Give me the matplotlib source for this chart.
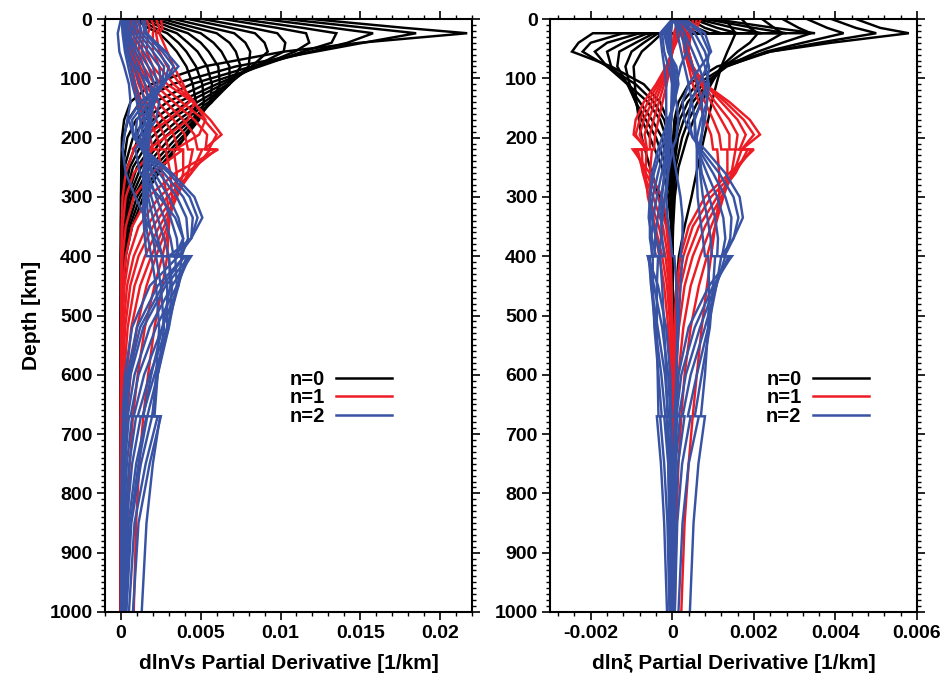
import matplotlib
matplotlib.use("Agg")
import matplotlib.pyplot as plt
from matplotlib.ticker import MultipleLocator, FuncFormatter
from matplotlib.lines import Line2D

plt.rcParams['font.family'] = ['Liberation Sans', 'DejaVu Sans']
plt.rcParams['font.weight'] = 'bold'

# kernel values are given in units of 1e-3 per km
UNIT = 1e-3

# ---------------- depth grids (km) ----------------
DEPTH_N0 = [0, 15, 24, 40, 55, 80, 110, 140, 170, 200, 250, 300, 350, 400, 500, 1000]
DEPTH_N0_XI = [0, 15, 24, 24, 40, 55, 80, 110, 140, 170, 200, 250, 300, 350, 400, 500, 1000]
DEPTH_N1 = [0, 15, 24, 55, 80, 110, 140, 170, 195, 220, 220, 260, 300, 350, 400, 450,
            520, 600, 670, 750, 850, 1000]
DEPTH_N2 = [0, 24, 55, 80, 110, 140, 170, 200, 220, 260, 300, 335, 370, 400, 400, 450,
            520, 600, 670, 670, 750, 850, 1000]

# ---------------- dlnVs kernels ----------------
VS_N0 = [
    [11.9, 17.8, 21.7, 15.0, 10.2, 5.2, 1.9, 0.6, 0.2, 0.06, 0.02, 0, 0, 0, 0, 0],
    [10.3, 15.4, 18.5, 15.2, 12.2, 7.2, 3.2, 1.2, 0.45, 0.15, 0.04, 0.01, 0, 0, 0, 0],
    [8.9, 13.3, 15.8, 14.2, 11.9, 8.2, 4.4, 2.1, 0.95, 0.4, 0.12, 0.03, 0, 0, 0, 0],
    [7.5, 11.4, 13.5, 13.2, 11.4, 8.7, 5.3, 2.9, 1.5, 0.75, 0.22, 0.06, 0.02, 0, 0, 0],
    [6.4, 9.8, 11.6, 11.8, 10.9, 8.6, 6.0, 3.6, 2.0, 1.1, 0.4, 0.12, 0.03, 0, 0, 0],
    [5.1, 8.2, 9.8, 10.3, 10.2, 8.4, 6.4, 4.2, 2.6, 1.5, 0.55, 0.18, 0.05, 0.01, 0, 0],
    [4.2, 6.9, 8.4, 9.0, 9.2, 8.2, 6.7, 4.8, 3.1, 1.9, 0.75, 0.26, 0.08, 0.02, 0, 0],
    [3.3, 5.7, 7.1, 7.8, 8.1, 8.0, 6.8, 5.2, 3.6, 2.3, 1.0, 0.38, 0.12, 0.04, 0, 0],
    [2.6, 4.7, 6.0, 6.8, 7.2, 7.5, 6.8, 5.5, 4.0, 2.7, 1.25, 0.5, 0.18, 0.06, 0, 0],
    [2.1, 3.9, 5.0, 5.8, 6.3, 6.8, 6.8, 5.7, 4.4, 3.1, 1.5, 0.65, 0.25, 0.08, 0.01, 0],
    [1.7, 3.2, 4.2, 5.0, 5.5, 6.1, 6.2, 5.7, 4.6, 3.5, 1.8, 0.8, 0.32, 0.12, 0.01, 0],
    [1.4, 2.6, 3.5, 4.2, 4.8, 5.4, 5.7, 5.6, 4.8, 3.8, 2.1, 1.0, 0.42, 0.16, 0.02, 0],
    [1.1, 2.1, 2.9, 3.6, 4.1, 4.7, 5.1, 5.2, 4.9, 4.0, 2.4, 1.2, 0.55, 0.22, 0.03, 0],
    [0.9, 1.7, 2.4, 3.0, 3.5, 4.1, 4.5, 4.7, 4.6, 4.0, 2.6, 1.4, 0.7, 0.3, 0.05, 0],
]
VS_N1 = [
    [2.5, 2.6, 2.4, 2.9, 3.3, 3.9, 4.3, 3.0, 1.6, 0.7, 0.8, 0.3, 0.1, 0.04, 0.02, 0.01, 0, 0, 0, 0, 0, 0],
    [2.2, 2.4, 2.2, 2.4, 2.9, 3.7, 4.6, 4.2, 3.0, 1.7, 2.0, 0.8, 0.3, 0.1, 0.04, 0.02, 0.01, 0, 0, 0, 0, 0],
    [1.9, 2.1, 2.0, 2.0, 2.4, 3.3, 4.6, 5.3, 4.9, 3.4, 3.9, 1.9, 0.8, 0.3, 0.1, 0.05, 0.02, 0.01, 0, 0, 0, 0],
    [1.6, 1.8, 1.7, 1.6, 2.0, 2.9, 4.5, 5.6, 6.3, 5.2, 6.1, 3.4, 1.7, 0.7, 0.3, 0.12, 0.05, 0.02, 0.01, 0, 0, 0],
    [1.3, 1.5, 1.4, 1.3, 1.7, 2.5, 3.8, 5.2, 6.0, 5.5, 6.0, 4.1, 2.4, 1.1, 0.5, 0.22, 0.09, 0.04, 0.02, 0.01, 0, 0],
    [1.0, 1.2, 1.2, 1.1, 1.4, 2.1, 3.3, 4.6, 5.4, 5.3, 5.6, 4.4, 2.9, 1.6, 0.8, 0.38, 0.16, 0.07, 0.04, 0.02, 0.01, 0.01],
    [0.8, 0.9, 1.0, 0.9, 1.2, 1.8, 2.8, 3.9, 4.6, 4.8, 5.1, 4.4, 3.3, 2.0, 1.1, 0.58, 0.26, 0.12, 0.07, 0.04, 0.02, 0.01],
    [0.6, 0.7, 0.8, 0.8, 1.0, 1.5, 2.3, 3.3, 4.0, 4.2, 4.5, 4.2, 3.5, 2.4, 1.5, 0.85, 0.42, 0.2, 0.12, 0.07, 0.04, 0.02],
    [0.4, 0.5, 0.6, 0.7, 0.9, 1.3, 1.9, 2.7, 3.3, 3.6, 3.9, 3.9, 3.5, 2.7, 1.9, 1.2, 0.65, 0.35, 0.2, 0.12, 0.07, 0.04],
    [0.3, 0.4, 0.5, 0.6, 0.8, 1.1, 1.6, 2.2, 2.7, 3.0, 3.3, 3.5, 3.4, 2.9, 2.2, 1.6, 1.0, 0.6, 0.38, 0.25, 0.15, 0.1],
    [0.2, 0.3, 0.4, 0.5, 0.7, 0.9, 1.3, 1.8, 2.2, 2.5, 2.8, 3.1, 3.2, 3.0, 2.6, 2.1, 1.5, 1.05, 0.75, 0.55, 0.4, 0.3],
    [0.1, 0.2, 0.3, 0.4, 0.6, 0.8, 1.1, 1.4, 1.8, 2.0, 2.3, 2.6, 2.9, 3.0, 2.9, 2.6, 2.1, 1.7, 1.4, 1.15, 0.95, 0.8],
]
VS_N2 = [
    [1.5, 1.6, 2.8, 3.6, 2.6, 1.2, 0.5, 0.8, 1.5, 3.2, 4.6, 5.1, 4.4, 3.0, 3.6, 1.8, 0.7, 0.25, 0.1, 0.12, 0.05, 0.02, 0.01],
    [1.3, 1.5, 2.6, 3.3, 2.7, 1.5, 0.7, 0.8, 1.4, 3.0, 4.3, 4.8, 4.4, 3.3, 4.0, 2.3, 1.0, 0.4, 0.18, 0.22, 0.1, 0.04, 0.02],
    [1.1, 1.3, 2.3, 3.0, 2.7, 1.8, 1.0, 0.9, 1.3, 2.7, 3.9, 4.5, 4.4, 3.6, 4.3, 2.8, 1.4, 0.6, 0.28, 0.34, 0.16, 0.07, 0.03],
    [0.9, 1.1, 2.0, 2.7, 2.6, 2.0, 1.3, 1.0, 1.3, 2.4, 3.5, 4.1, 4.2, 3.8, 4.4, 3.2, 1.8, 0.85, 0.42, 0.5, 0.25, 0.11, 0.05],
    [0.7, 0.9, 1.7, 2.4, 2.5, 2.1, 1.5, 1.2, 1.3, 2.1, 3.0, 3.6, 3.9, 3.8, 4.3, 3.5, 2.2, 1.1, 0.6, 0.7, 0.37, 0.17, 0.08],
    [0.5, 0.7, 1.4, 2.0, 2.3, 2.1, 1.7, 1.4, 1.4, 1.9, 2.6, 3.1, 3.5, 3.6, 4.1, 3.6, 2.6, 1.45, 0.8, 0.95, 0.52, 0.25, 0.12],
    [0.4, 0.5, 1.1, 1.7, 2.1, 2.1, 1.8, 1.6, 1.5, 1.7, 2.2, 2.7, 3.1, 3.3, 3.8, 3.6, 2.9, 1.8, 1.05, 1.25, 0.7, 0.35, 0.17],
    [0.3, 0.4, 0.9, 1.4, 1.8, 2.0, 1.9, 1.7, 1.6, 1.6, 1.9, 2.3, 2.7, 3.0, 3.4, 3.5, 3.0, 2.1, 1.35, 1.6, 0.95, 0.48, 0.24],
    [0.2, 0.3, 0.7, 1.1, 1.5, 1.8, 1.9, 1.8, 1.7, 1.6, 1.7, 2.0, 2.3, 2.6, 3.0, 3.2, 3.0, 2.3, 1.65, 1.95, 1.25, 0.65, 0.34],
    [0.15, 0.2, 0.5, 0.8, 1.2, 1.5, 1.7, 1.8, 1.7, 1.6, 1.6, 1.7, 2.0, 2.2, 2.6, 2.9, 2.9, 2.3, 1.95, 2.3, 1.55, 0.85, 0.5],
    [0.1, 0.15, 0.35, 0.6, 0.9, 1.2, 1.5, 1.6, 1.6, 1.5, 1.5, 1.5, 1.7, 1.9, 2.2, 2.5, 2.7, 2.3, 2.1, 2.5, 1.8, 1.1, 0.75],
    [0.05, 0.1, 0.25, 0.45, 0.7, 1.0, 1.2, 1.4, 1.5, 1.4, 1.4, 1.4, 1.5, 1.6, 1.9, 2.2, 2.4, 2.2, 2.0, 2.45, 2.0, 1.6, 1.3],
    [1.0, 0.6, 0.3, 0.9, 1.8, 2.4, 2.2, 1.4, 0.9, 1.2, 2.4, 3.4, 3.9, 3.4, 4.0, 2.6, 1.2, 0.5, 0.2, 0.25, 0.1, 0.05, 0.02],
    [0.0, -0.2, -0.1, 0.2, 0.5, 0.6, 0.4, 0.2, 0.1, 0.3, 0.9, 1.5, 2.1, 2.6, 3.0, 3.1, 2.6, 1.9, 1.4, 1.65, 1.1, 0.6, 0.3],
]

# ---------------- dlnxi kernels ----------------
XI_N0 = [
    [4.5, 5.1, 5.8, 5.8, 3.9, 2.4, 1.1, 0.4, 0.15, 0.05, 0.02, 0, 0, 0, 0, 0, 0],
    [3.9, 4.5, 5.0, 5.0, 3.6, 2.4, 1.3, 0.6, 0.25, 0.1, 0.04, 0.01, 0, 0, 0, 0, 0],
    [3.3, 3.8, 4.2, 4.2, 3.2, 2.3, 1.34, 0.75, 0.38, 0.18, 0.08, 0.02, 0, 0, 0, 0, 0],
    [2.7, 3.1, 3.4, 3.4, 2.7, 2.1, 1.3, 0.85, 0.5, 0.28, 0.14, 0.04, 0.01, 0, 0, 0, 0],
    [2.2, 2.5, 2.7, 2.7, 2.3, 1.8, 1.25, 0.9, 0.62, 0.4, 0.24, 0.08, 0.03, 0.01, 0, 0, 0],
    [1.7, 1.9, 2.1, 2.1, 1.9, 1.6, 1.2, 0.95, 0.72, 0.52, 0.36, 0.15, 0.06, 0.02, 0, 0, 0],
    [1.3, 1.45, 1.55, 1.55, 1.45, 1.35, 1.2, 1.08, 0.97, 0.88, 0.78, 0.62, 0.47, 0.3, 0.16, 0.04, 0],
    [1.0, 2.5, 3.5, -1.95, -2.3, -2.46, -1.5, -0.7, -0.3, -0.12, -0.05, 0, 0, 0, 0, 0, 0],
    [0.8, 2.0, 2.8, -1.2, -2.0, -2.2, -1.6, -0.9, -0.45, -0.2, -0.08, -0.02, 0, 0, 0, 0, 0],
    [0.6, 1.5, 2.2, -0.8, -1.6, -1.9, -1.6, -1.1, -0.6, -0.3, -0.15, -0.04, 0, 0, 0, 0, 0],
    [0.5, 1.1, 1.6, -0.6, -1.2, -1.6, -1.5, -1.1, -0.8, -0.5, -0.25, -0.08, -0.02, 0, 0, 0, 0],
    [0.4, 0.8, 1.2, -0.45, -0.9, -1.3, -1.35, -1.1, -0.9, -0.65, -0.4, -0.15, -0.05, -0.01, 0, 0, 0],
    [0.3, 0.6, 0.9, -0.35, -0.7, -1.0, -1.15, -1.05, -0.9, -0.75, -0.55, -0.25, -0.1, -0.03, 0, 0, 0],
    [0.2, 0.4, 0.6, -0.25, -0.5, -0.75, -0.95, -0.92, -0.88, -0.82, -0.75, -0.55, -0.32, -0.12, -0.03, 0, 0],
]
XI_N1 = [
    [0.7, 0.6, 0.4, 0.3, 0.4, 0.8, 1.4, 1.9, 2.15, 1.7, 2.0, 1.4, 0.8, 0.4, 0.2, 0.1, 0.05, 0.02, 0.01, 0, 0, 0],
    [0.6, 0.55, 0.45, 0.35, 0.45, 0.8, 1.3, 1.75, 2.0, 1.7, 1.95, 1.5, 0.95, 0.5, 0.27, 0.14, 0.07, 0.03, 0.02, 0.01, 0, 0],
    [0.5, 0.5, 0.45, 0.4, 0.5, 0.8, 1.2, 1.6, 1.8, 1.65, 1.85, 1.55, 1.1, 0.65, 0.37, 0.2, 0.1, 0.05, 0.03, 0.02, 0.01, 0.01],
    [0.4, 0.4, 0.4, 0.4, 0.5, 0.75, 1.05, 1.4, 1.6, 1.55, 1.7, 1.5, 1.2, 0.8, 0.5, 0.3, 0.16, 0.08, 0.05, 0.03, 0.02, 0.01],
    [0.3, 0.3, 0.35, 0.4, 0.5, 0.7, 0.95, 1.2, 1.4, 1.4, 1.55, 1.45, 1.25, 0.95, 0.68, 0.45, 0.27, 0.15, 0.1, 0.06, 0.04, 0.02],
    [0.2, 0.25, 0.3, 0.35, 0.45, 0.6, 0.8, 1.0, 1.15, 1.2, 1.35, 1.35, 1.25, 1.05, 0.85, 0.65, 0.45, 0.3, 0.22, 0.15, 0.1, 0.06],
    [0.15, 0.2, 0.25, 0.3, 0.4, 0.5, 0.65, 0.8, 0.95, 1.0, 1.1, 1.15, 1.15, 1.05, 0.95, 0.85, 0.72, 0.6, 0.5, 0.4, 0.3, 0.22],
    [0.4, 0.3, 0.2, 0.0, -0.15, -0.4, -0.7, -0.9, -0.95, -0.6, -0.97, -0.55, -0.25, -0.1, -0.04, -0.02, 0, 0, 0, 0, 0, 0],
    [0.35, 0.25, 0.15, 0.0, -0.15, -0.35, -0.6, -0.8, -0.9, -0.65, -0.92, -0.65, -0.35, -0.15, -0.07, -0.03, -0.01, 0, 0, 0, 0, 0],
    [0.3, 0.2, 0.1, 0.0, -0.1, -0.3, -0.5, -0.7, -0.8, -0.65, -0.85, -0.72, -0.47, -0.23, -0.11, -0.05, -0.02, -0.01, 0, 0, 0, 0],
    [0.25, 0.15, 0.1, 0.0, -0.1, -0.25, -0.42, -0.58, -0.68, -0.62, -0.75, -0.72, -0.57, -0.33, -0.17, -0.08, -0.03, -0.01, 0, 0, 0, 0],
    [0.2, 0.1, 0.05, 0.0, -0.08, -0.2, -0.33, -0.46, -0.55, -0.55, -0.63, -0.66, -0.6, -0.42, -0.25, -0.13, -0.05, -0.02, -0.01, 0, 0, 0],
    [0.15, 0.08, 0.04, 0.0, -0.05, -0.14, -0.24, -0.34, -0.42, -0.45, -0.5, -0.55, -0.55, -0.45, -0.32, -0.2, -0.1, -0.05, -0.02, -0.01, 0, 0],
]
XI_N2 = [
    [0.3, 0.8, 0.95, 0.7, 0.4, 0.25, 0.3, 0.5, 0.8, 1.3, 1.65, 1.73, 1.5, 1.2, 1.46, 0.9, 0.4, 0.15, 0.06, 0.07, 0.03, 0.01, 0.0],
    [0.25, 0.7, 0.9, 0.85, 0.65, 0.45, 0.4, 0.5, 0.7, 1.15, 1.5, 1.62, 1.5, 1.28, 1.45, 1.0, 0.55, 0.22, 0.1, 0.12, 0.05, 0.02, 0.01],
    [0.2, 0.55, 0.8, 0.9, 0.85, 0.7, 0.55, 0.55, 0.65, 1.0, 1.3, 1.45, 1.42, 1.28, 1.38, 1.05, 0.68, 0.33, 0.16, 0.19, 0.08, 0.03, 0.01],
    [0.15, 0.45, 0.65, 0.8, 0.9, 0.85, 0.7, 0.6, 0.62, 0.85, 1.1, 1.25, 1.3, 1.22, 1.3, 1.08, 0.8, 0.45, 0.25, 0.3, 0.14, 0.06, 0.03],
    [0.1, 0.3, 0.5, 0.65, 0.8, 0.85, 0.8, 0.7, 0.65, 0.72, 0.9, 1.05, 1.12, 1.1, 1.2, 1.08, 0.88, 0.6, 0.38, 0.45, 0.24, 0.12, 0.06],
    [0.08, 0.2, 0.35, 0.5, 0.62, 0.72, 0.75, 0.72, 0.68, 0.68, 0.75, 0.86, 0.94, 0.97, 1.05, 1.0, 0.92, 0.72, 0.55, 0.65, 0.4, 0.25, 0.15],
    [0.05, 0.12, 0.22, 0.3, 0.4, 0.48, 0.55, 0.58, 0.6, 0.6, 0.62, 0.68, 0.75, 0.8, 0.88, 0.9, 0.88, 0.8, 0.7, 0.8, 0.64, 0.52, 0.43],
    [0.0, -0.2, -0.1, 0.1, 0.15, 0.05, -0.1, -0.25, -0.35, -0.5, -0.55, -0.5, -0.4, -0.3, -0.6, -0.35, -0.15, -0.05, -0.02, -0.03, -0.01, 0, 0],
    [0.0, -0.15, -0.1, 0.05, 0.1, 0.05, -0.05, -0.18, -0.28, -0.45, -0.55, -0.58, -0.5, -0.4, -0.6, -0.45, -0.25, -0.1, -0.05, -0.06, -0.02, -0.01, 0],
    [0.0, -0.1, -0.08, 0.02, 0.05, 0.02, -0.03, -0.12, -0.2, -0.35, -0.48, -0.55, -0.55, -0.48, -0.58, -0.52, -0.36, -0.18, -0.1, -0.12, -0.05, -0.02, -0.01],
    [0.0, -0.08, -0.06, 0.0, 0.02, 0.0, -0.03, -0.08, -0.14, -0.26, -0.38, -0.47, -0.52, -0.5, -0.55, -0.52, -0.42, -0.27, -0.17, -0.2, -0.1, -0.05, -0.02],
    [0.0, -0.05, -0.05, -0.02, 0.0, -0.01, -0.03, -0.06, -0.1, -0.18, -0.28, -0.36, -0.42, -0.44, -0.48, -0.48, -0.44, -0.34, -0.26, -0.3, -0.2, -0.12, -0.07],
    [0.0, -0.03, -0.03, -0.02, -0.01, -0.02, -0.03, -0.05, -0.07, -0.12, -0.18, -0.24, -0.28, -0.32, -0.35, -0.38, -0.38, -0.36, -0.34, -0.38, -0.28, -0.2, -0.13],
    [0.1, -0.25, -0.2, -0.1, 0.0, 0.1, 0.15, 0.1, 0.0, -0.1, -0.15, -0.12, -0.05, 0.0, 0.05, 0.1, 0.12, 0.1, 0.08, 0.1, 0.08, 0.06, 0.04],
    [0.05, 0.3, 0.35, 0.2, 0.1, 0.0, -0.05, -0.05, 0.0, 0.1, 0.2, 0.25, 0.25, 0.2, 0.25, 0.2, 0.15, 0.1, 0.06, 0.07, 0.05, 0.03, 0.02],
    [0.0, -0.3, -0.25, -0.2, -0.15, -0.15, -0.15, -0.15, -0.15, -0.2, -0.25, -0.28, -0.25, -0.2, -0.3, -0.25, -0.2, -0.15, -0.12, -0.14, -0.1, -0.08, -0.06],
]

LEGEND_LABELS = ["n=0", "n=1", "n=2"]
COLORS = ["#000000", "#ED1C24", "#3953A4"]

W, H = 952, 680
fig = plt.figure(figsize=(W / 100, H / 100), dpi=100)


def box(x0, x1, y0, y1):
    return [x0 / W, 1 - y1 / H, (x1 - x0) / W, (y1 - y0) / H]


axL = fig.add_axes(box(105, 472, 19, 612))
axR = fig.add_axes(box(550, 917, 19, 612))


def draw(ax, depth, curves, color):
    for c in curves:
        ax.plot([v * UNIT for v in c], depth, color=color, lw=1.75,
                solid_joinstyle='miter')


draw(axL, DEPTH_N0, VS_N0, COLORS[0])
draw(axL, DEPTH_N1, VS_N1, COLORS[1])
draw(axL, DEPTH_N2, VS_N2, COLORS[2])
draw(axR, DEPTH_N0_XI, XI_N0, COLORS[0])
draw(axR, DEPTH_N1, XI_N1, COLORS[1])
draw(axR, DEPTH_N2, XI_N2, COLORS[2])

fmt = FuncFormatter(lambda x, p: f"{x:g}" if abs(x) > 1e-12 else "0")

for ax in (axL, axR):
    ax.set_ylim(1000, 0)
    ax.yaxis.set_major_locator(MultipleLocator(100))
    ax.yaxis.set_minor_locator(MultipleLocator(10))
    ax.tick_params(which='both', direction='out', top=True, right=True,
                   labelsize=14, width=1.2, pad=3)
    ax.tick_params(which='major', length=6)
    ax.tick_params(which='minor', length=3, width=1.0)
    for s in ax.spines.values():
        s.set_linewidth(1.5)
    ax.xaxis.set_major_formatter(fmt)
    for lab in ax.get_xticklabels() + ax.get_yticklabels():
        lab.set_fontweight('bold')

axL.set_xlim(-0.001, 0.022)
axL.xaxis.set_major_locator(MultipleLocator(0.005))
axL.xaxis.set_minor_locator(MultipleLocator(0.001))
axR.set_xlim(-0.003, 0.006)
axR.xaxis.set_major_locator(MultipleLocator(0.002))
axR.xaxis.set_minor_locator(MultipleLocator(0.0004))

axL.set_xlabel("dlnVs Partial Derivative [1/km]", fontsize=15, fontweight='bold', labelpad=9)
axR.set_xlabel("dlnξ Partial Derivative [1/km]", fontsize=15, fontweight='bold', labelpad=9)
axL.set_ylabel("Depth [km]", fontsize=15, fontweight='bold', labelpad=6)

handles = [Line2D([], [], color=c, lw=1.8) for c in COLORS]
for ax, cx in ((axL, 0.642), (axR, 0.729)):
    ax.legend(handles, LEGEND_LABELS, loc='center', bbox_to_anchor=(cx, 0.361),
              frameon=False, markerfirst=False, handlelength=2.8,
              handletextpad=0.55, labelspacing=-0.02, borderpad=0,
              prop={'weight': 'bold', 'size': 14.5})

fig.savefig("out.png", dpi=100)
